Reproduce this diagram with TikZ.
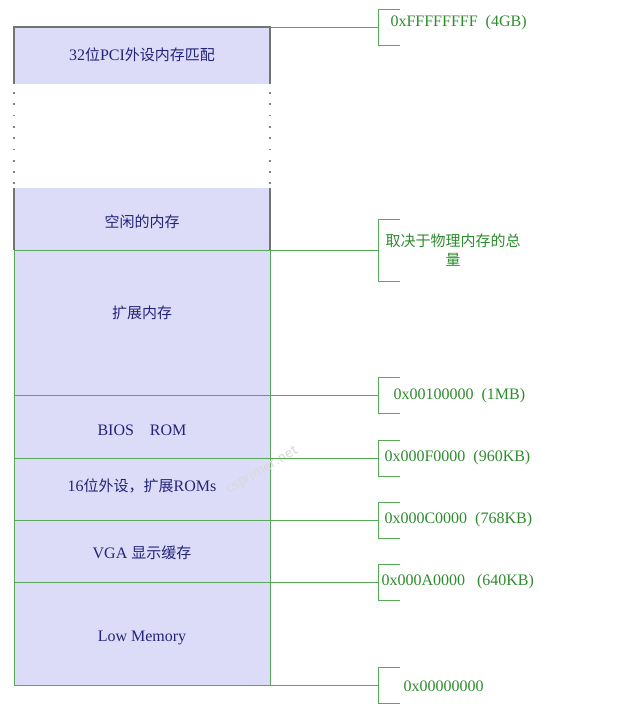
\documentclass[tikz,border=0pt]{standalone}
\usepackage{fontspec}
\setmainfont{Liberation Serif}
\newfontfamily\cjk{Noto Sans CJK SC}
\definecolor{lg}{HTML}{55AA55}
\definecolor{lt}{HTML}{2E8B2E}
\definecolor{bt}{HTML}{23237A}
\definecolor{bf}{HTML}{DCDCF8}
\begin{document}
\begin{tikzpicture}[x=1pt,y=-1pt,
  fillc/.style={fill=bf},
  txt/.style={text=bt,font=\fontsize{16}{19}\selectfont},
  lab/.style={text=lt,font=\fontsize{16}{19}\selectfont,anchor=west},
  gl/.style={draw=lg,line width=1pt},
  gr/.style={draw=gray!90!black,line width=1.2pt}]
\useasboundingbox (0,0) rectangle (620,716);
% fills
\fill[fillc] (14,27) rectangle (270,84);
\fill[fillc] (14,188) rectangle (270,685);
% gray borders
\draw[gr] (14,84) -- (14,27) -- (270,27) -- (270,84);
\draw[gr] (14,188) -- (14,250) (270,188) -- (270,250);
\draw[gray,line width=1.8pt,dash pattern=on 1.8pt off 9.5pt] (14,92) -- (14,188) (270,92) -- (270,188);
% green box edges
\draw[gl] (14,250) -- (14,685) (270,250) -- (270,685);
\foreach \y in {250,395,458,520,582,685} \draw[gl] (14,\y) -- (270,\y);
% section texts
\node[txt] (pci) at (142,55) {32{\cjk\fontsize{15}{18}\selectfont 位}PCI{\cjk\fontsize{15}{18}\selectfont 外设内存匹配}};
\node[txt] (free) at (142,222) {\cjk\fontsize{15}{18}\selectfont 空闲的内存};
\node[txt] (ext) at (142,313) {\cjk\fontsize{15}{18}\selectfont 扩展内存};
\node[txt] (bios) at (142,430) {BIOS\quad ROM};
\node[txt] (p16) at (142,486) {16{\cjk\fontsize{15}{18}\selectfont 位外设，扩展}ROMs};
\node[txt] (vga) at (142,553) {VGA {\cjk\fontsize{15}{18}\selectfont 显示缓存}};
\node[txt] (low) at (142,638) {Low Memory};
% watermark
\node[text=gray!30,rotate=30,font=\fontsize{17}{19}\selectfont\sffamily] (wm) at (262,470) {csprimer.net};
% connectors & brackets
\foreach \y/\h/\n in {27/18/a,250/31/b,395/18/c,458/18/d,520/18/e,582/18/f,685/18/g}{
  \coordinate (s\n) at (270,\y);
  \coordinate (b\n) at (378,\y);
  \draw[gl] (s\n) -- (b\n);
  \draw[gl] (400,\y-\h) -- (378,\y-\h) -- (378,\y+\h) -- (400,\y+\h);
}
\node[lab] (la) at (387,23) {0xFFFFFFFF\ \ (4GB)};
\node[lab,align=center] (lb) at (382,250) {{\cjk\fontsize{15}{26}\selectfont 取决于物理内存的总}\\{\cjk\fontsize{15}{18}\selectfont 量}};
\node[lab] (lc) at (390,396) {0x00100000\ \ (1MB)};
\node[lab] (ld) at (381,458) {0x000F0000\ \ (960KB)};
\node[lab] (le) at (381,520) {0x000C0000\ \ (768KB)};
\node[lab] (lf) at (378,582) {0x000A0000\ \ \ (640KB)};
\node[lab] (lg) at (400,686) {0x00000000};
\end{tikzpicture}
\end{document}
